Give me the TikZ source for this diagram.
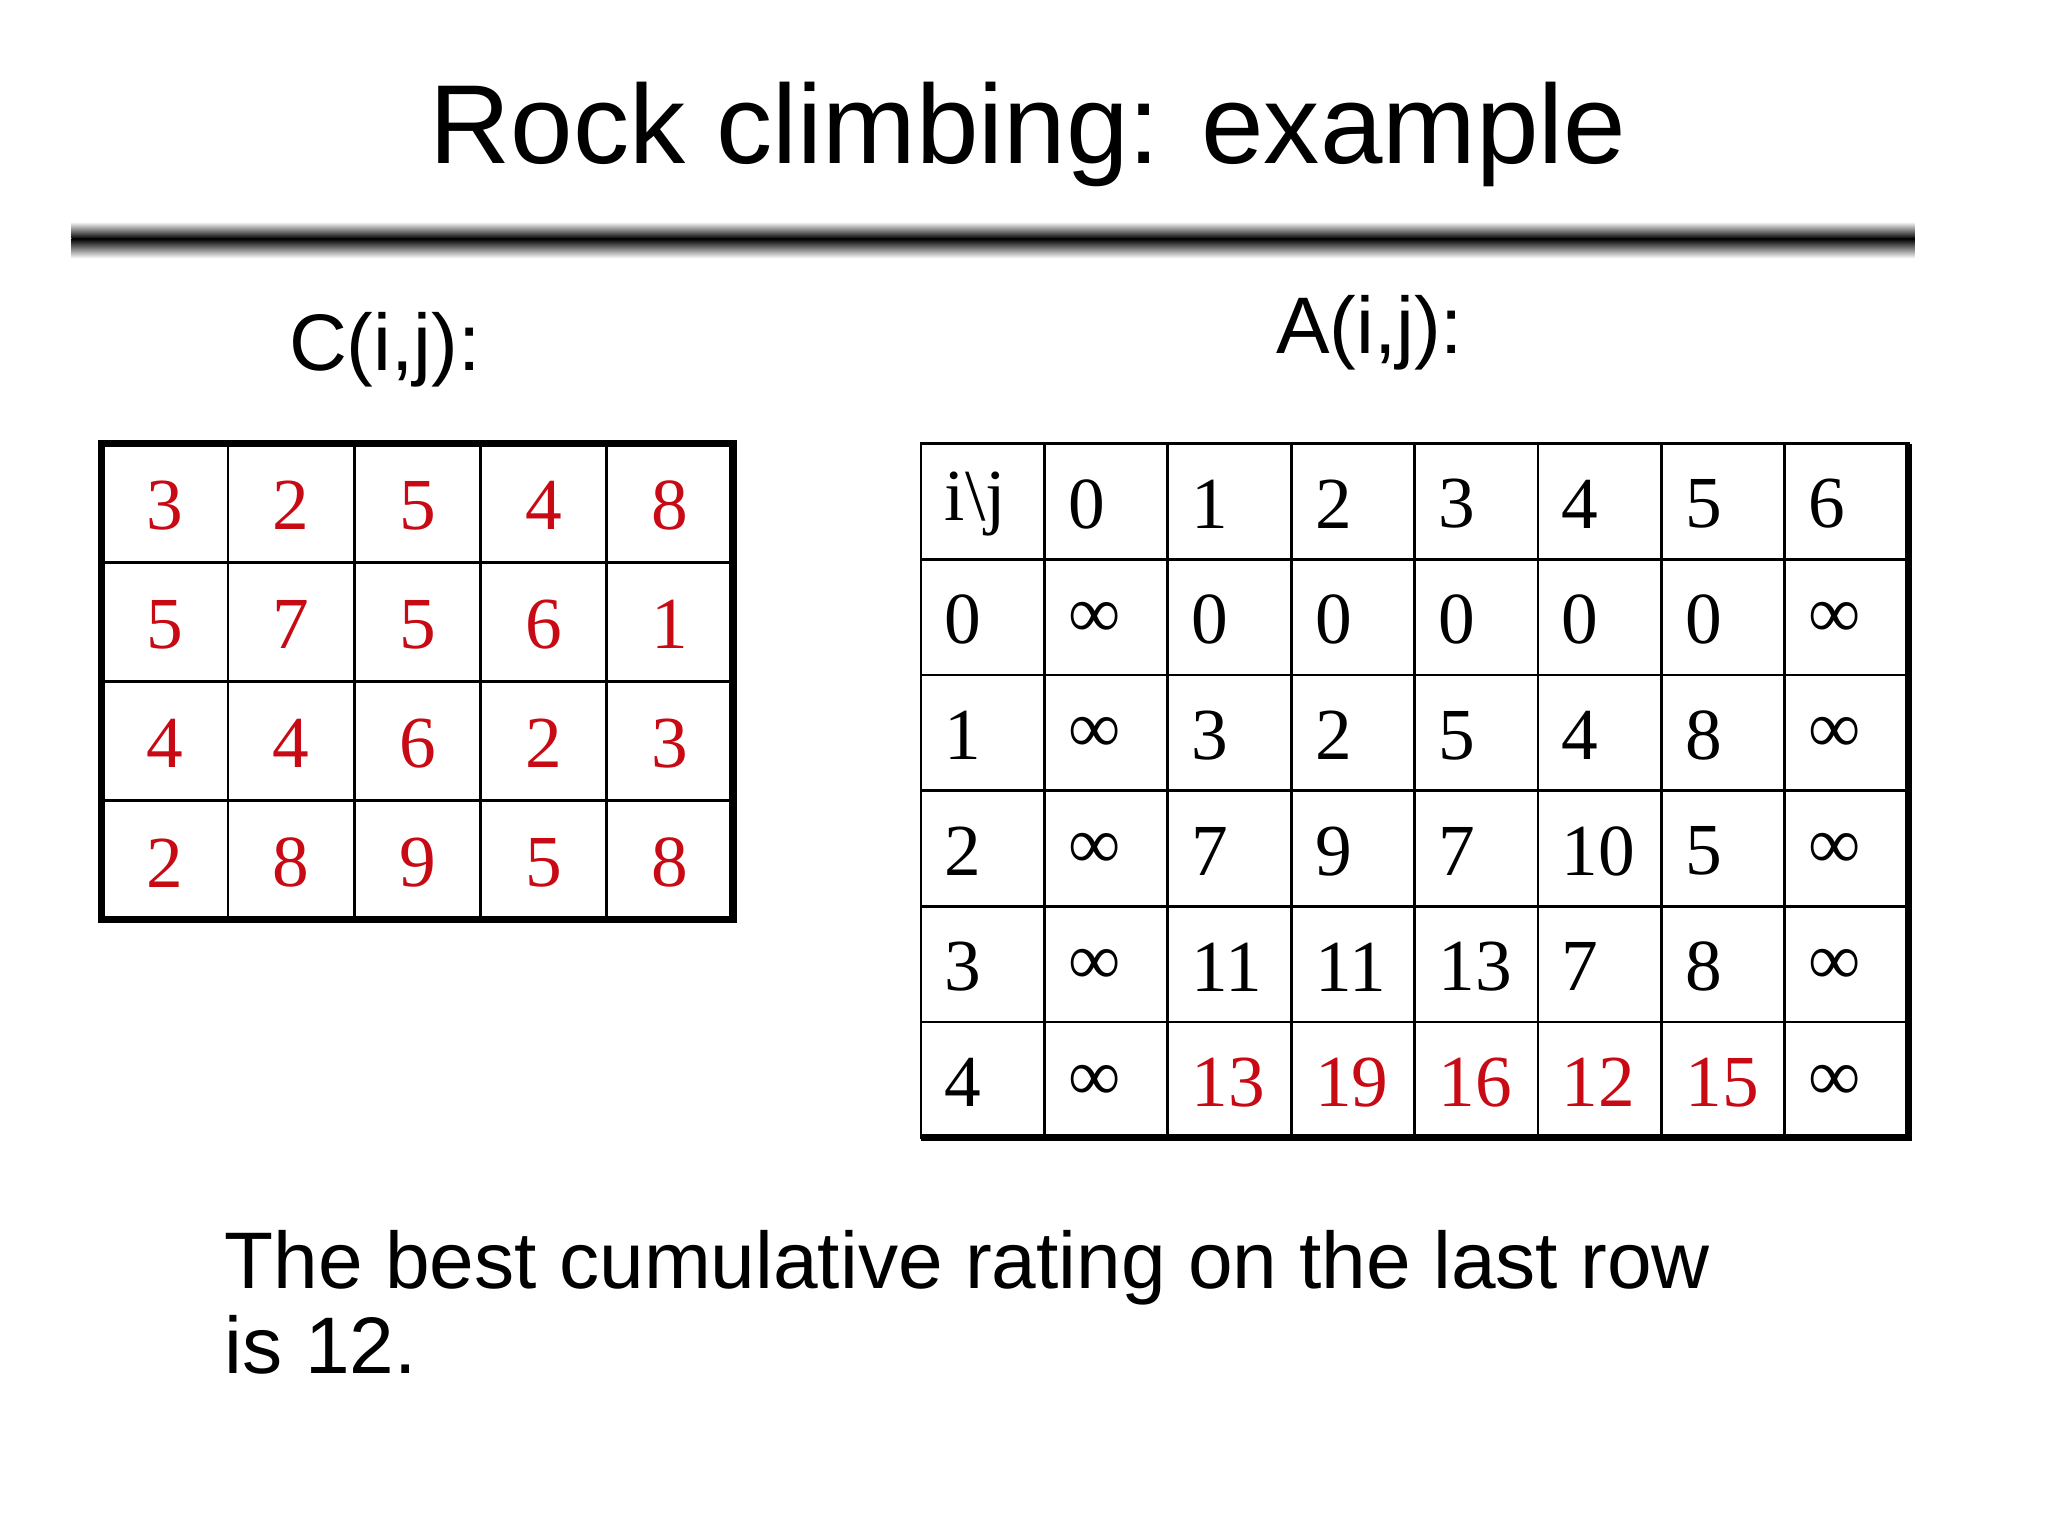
\documentclass[tikz,border=0pt]{standalone}
\usepackage{fontspec}
\setmainfont{Liberation Serif}
\setsansfont{Liberation Sans}
\definecolor{cred}{RGB}{200,10,20}
\begin{document}
\begin{tikzpicture}[x=1cm,y=-1cm,
  cellnum/.style={font=\fontsize{16}{19}\selectfont,anchor=center},
  anum/.style={font=\fontsize{16}{19}\selectfont,anchor=west},
  lbl/.style={font=\sffamily\fontsize{17.5}{20}\selectfont}]
\useasboundingbox (0,0) rectangle (15.70,11.78);
% title
\node[font=\sffamily\fontsize{24.5}{28}\selectfont] (title) at (7.88,1.03) {Rock climbing: example};
\shade[top color=white,bottom color=black] (0.55,1.70) rectangle (14.68,1.83);
\shade[top color=black,bottom color=white] (0.55,1.83) rectangle (14.68,1.98);
\node[lbl] (cl) at (2.95,2.68) {C(i,j):};
\node[lbl] (al) at (10.50,2.55) {A(i,j):};
% C table
\def\cw{0.968}\def\ch{0.9125}
\foreach \r/\vals in {0/{3,2,5,4,8},1/{5,7,5,6,1},2/{4,4,6,2,3},3/{2,8,9,5,8}}{
  \foreach \v [count=\c from 0] in \vals {
    \node[cellnum,text=cred] (c-\r-\c) at ({0.78+(\c+0.5)*\cw},{3.40+(\r+0.5)*\ch+0.02}) {\v};
  }}
\foreach \i in {1,...,4} \draw[line width=0.6pt] ({0.78+\i*\cw},3.40) -- ({0.78+\i*\cw},7.05);
\foreach \i in {1,...,3} \draw[line width=0.6pt] (0.78,{3.40+\i*\ch}) -- (5.62,{3.40+\i*\ch});
\draw[line width=1.6pt] (0.78,3.40) rectangle (5.62,7.05);
% A table
\def\aw{0.946}\def\ah{0.887}
\foreach \r/\vals in {0/{i\textbackslash j,0,1,2,3,4,5,6},1/{0,∞,0,0,0,0,0,∞},2/{1,∞,3,2,5,4,8,∞},3/{2,∞,7,9,7,10,5,∞},4/{3,∞,11,11,13,7,8,∞}}{
  \foreach \v [count=\c from 0] in \vals {
    \node[anum] (a-\r-\c) at ({7.06+\c*\aw+0.06},{3.40+(\r+0.5)*\ah+0.02}) {\v};
  }}
\foreach \v [count=\c from 0] in {4,∞,13,19,16,12,15,∞}{
  \ifnum\c>1\ifnum\c<7
    \node[anum,text=cred] (a-5-\c) at ({7.06+\c*\aw+0.06},{3.40+5.5*\ah+0.02}) {\v};
  \else
    \node[anum] (a-5-\c) at ({7.06+\c*\aw+0.06},{3.40+5.5*\ah+0.02}) {\v};
  \fi\else
    \node[anum] (a-5-\c) at ({7.06+\c*\aw+0.06},{3.40+5.5*\ah+0.02}) {\v};
  \fi}
\foreach \i in {1,...,7} \draw[line width=0.6pt] ({7.06+\i*\aw},3.40) -- ({7.06+\i*\aw},8.72);
\foreach \i in {1,...,5} \draw[line width=0.6pt] (7.06,{3.40+\i*\ah}) -- (14.63,{3.40+\i*\ah});
\draw[line width=0.6pt] (7.06,3.40) rectangle (14.63,8.72);
\draw[line width=1.6pt] (14.63,3.40) -- (14.63,8.72) -- (7.06,8.72);
% bottom text
\node[lbl,anchor=base west] (bt) at (1.60,9.88) {The best cumulative rating on the last row};
\node[lbl,anchor=base west] (bt2) at (1.60,10.53) {is 12.};
\end{tikzpicture}
\end{document}
